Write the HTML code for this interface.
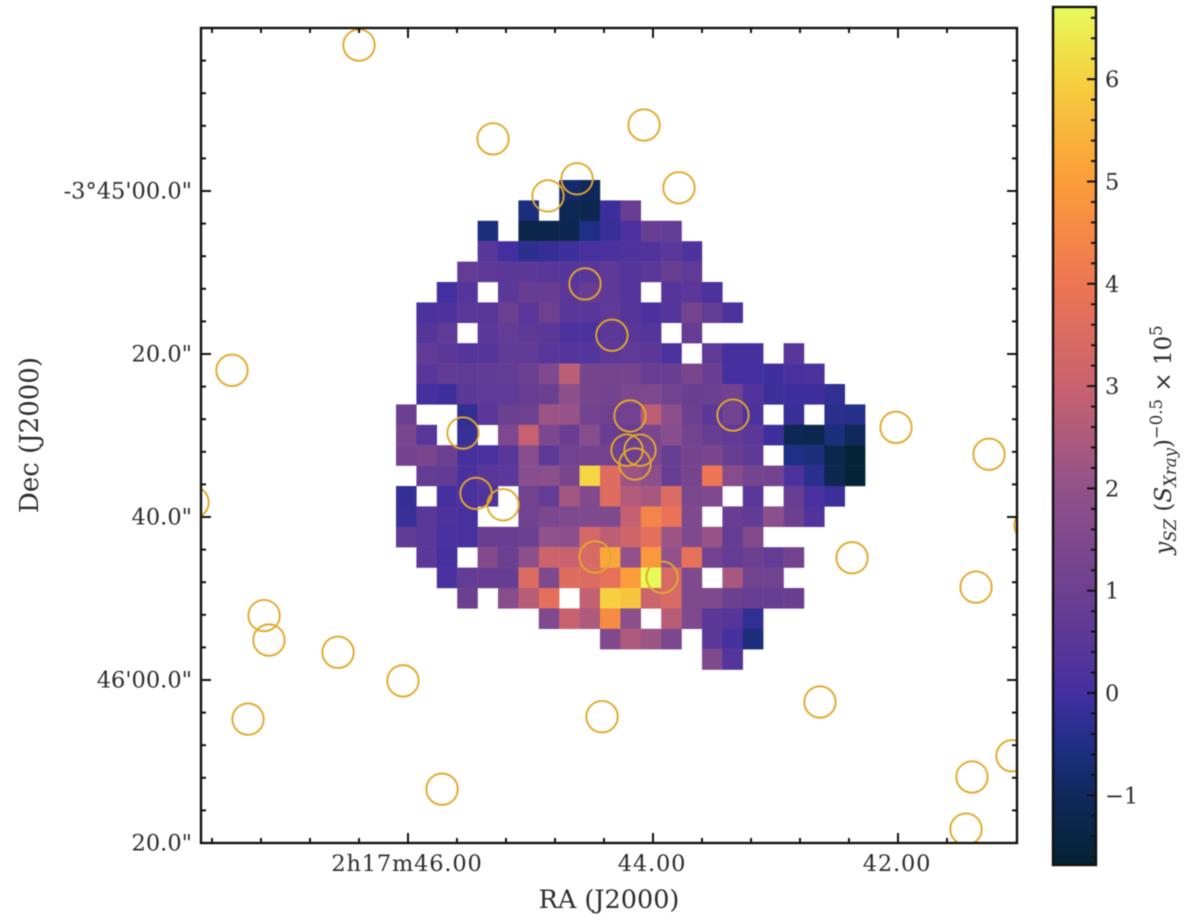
<!DOCTYPE html>
<html lang="en">
<head>
<meta charset="utf-8">
<title>SZ / X-ray map</title>
<style>
html,body{margin:0;padding:0;background:#fff;}
#chart{display:block;width:1200px;height:920px;filter:blur(0.65px);}
text{font-family:"DejaVu Serif","Liberation Serif",serif;fill:#2c2c2c;font-size:22.5px;}
</style>
</head>
<body>
<svg id="chart" xmlns="http://www.w3.org/2000/svg" width="1200" height="920" viewBox="0 0 1200 920">
  <defs>
    <linearGradient id="cbar-gradient" x1="0" y1="1" x2="0" y2="0"></linearGradient>
    <clipPath id="plot-clip"><rect x="201" y="28" width="816" height="815"></rect></clipPath>
  </defs>
  <g id="cells"></g>
  <g id="sources" clip-path="url(#plot-clip)"></g>
  <g id="ticks"></g>
  <rect x="201" y="28" width="816" height="815" fill="none" stroke="#111" stroke-width="2.4"></rect>
  <g id="tick-labels"></g>
  <text x="609" y="908" text-anchor="middle" style="font-size:25.5px">RA (J2000)</text>
  <text transform="translate(38,435) rotate(-90)" text-anchor="middle" style="font-size:26px">Dec (J2000)</text>
  <rect x="1053" y="7" width="43" height="858" fill="url(#cbar-gradient)" stroke="#111" stroke-width="2.4"></rect>
  <g id="cbar-ticks"></g>
  <text transform="translate(1171,440) rotate(-90)" text-anchor="middle" style="font-size:23px"><tspan font-style="italic">y</tspan><tspan font-style="italic" dy="5" style="font-size:16.5px">SZ</tspan><tspan dy="-5"> (</tspan><tspan font-style="italic">S</tspan><tspan font-style="italic" dy="5" style="font-size:16.5px">Xray</tspan><tspan dy="-5">)</tspan><tspan dy="-9" style="font-size:16.5px">−0.5</tspan><tspan dy="9"> × 10</tspan><tspan dy="-9" style="font-size:16.5px">5</tspan></text>
</svg>
<script>
// ---- data ----
var _ = null;
var mapValues = [
[_,_,_,_,_,_,_,_,-0.8,-1.0,_,_,_,_,_,_,_,_,_,_,_,_,_],
[_,_,_,_,_,_,-0.6,_,-1.1,-1.15,-0.1,0.9,_,_,_,_,_,_,_,_,_,_,_],
[_,_,_,_,-0.6,_,-1.3,-1.3,-1.15,-0.5,-0.15,0.2,0.9,0.75,_,_,_,_,_,_,_,_,_],
[_,_,_,_,0.45,0,-0.3,-0.2,-0.05,0.1,0.15,0.25,0.3,0.5,0.25,_,_,_,_,_,_,_,_],
[_,_,_,0.8,0.6,0.55,0.55,0.45,0.35,0.45,0.6,0.35,0.5,0.9,0.65,_,_,_,_,_,_,_,_],
[_,_,0,0.4,_,0.55,0.85,0.85,0.5,0.85,0.6,0.35,_,0.4,0.5,0.2,_,_,_,_,_,_,_],
[_,0.2,0.25,0.5,0.45,1.0,0.5,1.05,0.45,0.45,0.65,0.4,0.15,0.35,1.25,0.75,0.2,_,_,_,_,_,_],
[_,0.4,0.65,_,0.5,0.75,0.6,0.55,0.2,0.2,0.55,0.45,0.35,_,0.85,_,_,_,_,_,_,_,_],
[_,0.7,0.55,0.35,0.4,0.7,0.7,0.45,0.35,0.35,0.6,0.65,0.5,0.2,_,0.65,0.05,0.05,_,0.45,_,_,_],
[_,0.45,0.7,0.7,0.7,0.8,1.0,1.55,2.8,1.3,1.25,1.3,0.9,0.9,1.35,0.95,0,0,-0.05,0.1,0.2,_,_],
[_,0.05,-0.05,0.55,0.65,0.65,0.9,1.0,1.9,1.3,1.2,1.4,1.45,1.1,0.95,1.0,1.1,0.3,-0.1,-0.05,-0.05,-0.25,_],
[1.0,_,_,-0.25,0.5,1.0,1.05,2.2,2.1,1.2,1.05,1.1,2.8,1.85,1.0,0.55,1.1,0.2,_,-0.15,_,-0.35,-0.4],
[1.35,0.45,_,-0.15,_,1.45,2.95,1.4,0.95,1.7,0.9,0.9,1.35,1.75,1.15,0.9,0.7,0.55,-0.05,-1.1,-1.15,-0.6,-1.0],
[1.2,1.35,1.0,0.05,0.1,0.45,1.75,0.6,1.1,1.2,1.1,1.0,1.4,0.9,1.2,1.35,0.9,0.6,_,-0.5,-0.6,-1.2,-1.6],
[_,0.8,0.7,0.15,0.45,0.55,1.75,1.8,1.35,6.1,3.6,2.2,1.9,0.9,1.3,4.0,1.7,1.25,1.2,0.2,-0.35,-1.15,-1.6],
[-0.2,_,0.05,0.15,0.3,_,1.1,0.8,2.3,1.6,3.6,2.6,2.4,3.5,1.4,1.5,_,0.5,_,0.9,0.1,-0.1,_],
[-0.15,0.5,0.2,0.1,_,_,1.1,1.4,1.5,1.5,1.5,2.9,4.4,3.9,1.5,_,0.9,0.7,1.9,1.0,0.3,_,_],
[0.7,0.5,0.1,0.1,0.95,0.9,1.0,2.0,1.9,3.3,2.8,3.2,3.7,2.2,1.5,2.1,0.8,1.6,_,_,_,_,_],
[_,0.55,0.05,_,1.6,1.0,1.9,3.1,3.0,3.4,5.2,2.0,4.9,2.0,3.8,1.1,0.8,1.0,0.8,1.2,_,_,_],
[_,_,0.15,0.75,0.85,0.85,3.5,1.5,3.6,3.5,3.8,5.0,6.7,3.4,1.5,_,2.4,1.1,1.1,_,_,_,_],
[_,_,_,1.0,_,1.7,2.7,3.7,_,2.9,6.0,5.8,3.1,3.4,1.5,1.5,1.0,0.9,0.9,0.95,_,_,_],
[_,_,_,_,_,_,_,1.5,3.0,2.5,4.6,1.9,_,2.7,1.5,0.55,0.4,-0.25,_,_,_,_,_],
[_,_,_,_,_,_,_,_,_,_,1.55,2.5,2.2,1.4,_,0.55,0.05,-0.6,_,_,_,_,_],
[_,_,_,_,_,_,_,_,_,_,_,_,_,_,_,1.5,0.35,_,_,_,_,_,_]
];
var sourceRA = [46.400,45.306,44.073,44.620,44.857,43.788,44.555,44.335,47.437,44.188,43.347,45.551,42.016,41.257,44.212,44.106,44.147,45.445,45.224,47.755,40.922,44.473,43.926,42.375,41.363,47.175,47.135,46.571,46.041,47.306,44.416,42.637,41.069,41.396,45.722,41.445];
var sourceDec = [-17.9,-6.4,-8.1,-1.5,0.6,-0.4,11.4,17.7,22.0,27.6,27.5,29.7,29.0,32.3,31.8,31.8,33.5,37.1,38.5,38.2,41.0,44.9,47.4,45.0,48.6,52.1,55.1,56.6,60.1,64.8,64.5,62.7,69.3,71.9,73.4,78.3];
var raTicks = [46, 44, 42];
var raTickLabels = ["2h17m46.00", "44.00", "42.00"];
var decTicks = [0, 20, 40, 60, 80];
var decTickLabels = ["-3°45'00.0\"", "20.0\"", "40.0\"", "46'00.0\"", "20.0\""];
var cbarTicks = [-1, 0, 1, 2, 3, 4, 5, 6];
var cbarTickLabels = ["−1", "0", "1", "2", "3", "4", "5", "6"];
var cbarMin = -1.67;
var cbarMax = 6.72;

// ---- scales ----
var NS = "http://www.w3.org/2000/svg";
function xRA(ra){ return 408 + (46 - ra) * 122.5; }
function yDec(d){ return 191 + d * 8.15; }
function colX(c){ return 396 + c * 20.4; }
function rowY(r){ return 180 + r * 20.4; }
function yCbar(v){ return 693 - v * 102.3; }

var cmapV = [-1.67,-1,-0.5,0,0.5,1,2,3,4,5,6,6.72];
var cmapC = [[4,35,51],[16,40,90],[31,47,133],[67,47,159],[90,55,153],[108,64,144],[145,81,138],[200,98,111],[238,117,84],[252,156,58],[246,208,63],[232,250,91]];
function colorOf(v){
  var i = 0;
  if (v <= cmapV[0]) return "rgb(" + cmapC[0].join(",") + ")";
  while (i < cmapV.length - 2 && v > cmapV[i + 1]) i++;
  var t = Math.min(1, (v - cmapV[i]) / (cmapV[i + 1] - cmapV[i]));
  var a = cmapC[i], b = cmapC[i + 1];
  return "rgb(" + Math.round(a[0] + (b[0] - a[0]) * t) + "," + Math.round(a[1] + (b[1] - a[1]) * t) + "," + Math.round(a[2] + (b[2] - a[2]) * t) + ")";
}
function make(tag, parent, attrs){
  var e = document.createElementNS(NS, tag);
  for (var k in attrs) e.setAttribute(k, attrs[k]);
  parent.appendChild(e);
  return e;
}

// ---- heatmap ----
var cellsG = document.getElementById("cells");
mapValues.forEach(function(row, r){
  row.forEach(function(v, c){
    if (v === null) return;
    var cell = make("rect", cellsG, {x: colX(c), y: rowY(r), width: 20.6, height: 20.6, fill: colorOf(v)});
    
    
  });
});

// ---- source circles ----
var sourcesG = document.getElementById("sources");
sourceRA.forEach(function(ra, i){
  var ring = make("circle", sourcesG, {cx: xRA(ra), cy: yDec(sourceDec[i]), r: 15.7, fill: "none", stroke: "#e3a82c", "stroke-width": 1.9});
  
  
});

// ---- plot ticks ----
var ticksG = document.getElementById("ticks");
var labelsG = document.getElementById("tick-labels");
function tickLine(parent, x1, y1, x2, y2, w){
  var t = make("line", parent, {x1: x1, y1: y1, x2: x2, y2: y2, stroke: "#111", "stroke-width": w});
  
  
  return t;
}
for (var k = -4; k <= 11; k++) {
  var ra = 46 - k * 0.4;
  var xp = xRA(ra);
  if (xp < 202 || xp > 1016) continue;
  var isMajorX = k % 5 === 0;
  var lenX = isMajorX ? 10 : 5;
  tickLine(ticksG, xp, 843, xp, 843 - lenX, 2);
  tickLine(ticksG, xp, 28, xp, 28 + lenX, 2);
}
for (var d = -16; d <= 76; d += 4) {
  var yp = yDec(d);
  var lenY = d % 20 === 0 ? 10 : 5;
  tickLine(ticksG, 201, yp, 201 + lenY, yp, 2);
  tickLine(ticksG, 1017, yp, 1017 - lenY, yp, 2);
}
tickLine(ticksG, 201, yDec(80), 211, yDec(80), 2);
tickLine(ticksG, 1017, yDec(80), 1007, yDec(80), 2);

raTicks.forEach(function(ra, i){
  var lab = make("text", labelsG, {x: xRA(ra) - 1, y: 871, "text-anchor": "middle", "letter-spacing": "0.8"});
  
  
  lab.textContent = raTickLabels[i];
});
decTicks.forEach(function(d, i){
  var lab = make("text", labelsG, {x: 192, y: yDec(d) + 7.5, "text-anchor": "end"});
  
  
  lab.textContent = decTickLabels[i];
});

// ---- colorbar ----
var grad = document.getElementById("cbar-gradient");
cmapV.forEach(function(v, i){
  make("stop", grad, {offset: (v - cbarMin) / (cbarMax - cbarMin), "stop-color": "rgb(" + cmapC[i].join(",") + ")"});
});
var cbG = document.getElementById("cbar-ticks");
for (var m = -8; m <= 33; m++) {
  var val = m * 0.2;
  if (val < cbarMin || val > cbarMax) continue;
  var major = m % 5 === 0;
  tickLine(cbG, 1096, yCbar(val), 1096 - (major ? 9 : 5), yCbar(val), 2);
}
cbarTicks.forEach(function(v, i){
  var lab = make("text", cbG, {x: 1105, y: yCbar(v) + 8});
  
  
  lab.textContent = cbarTickLabels[i];
});
</script>
</body>
</html>
